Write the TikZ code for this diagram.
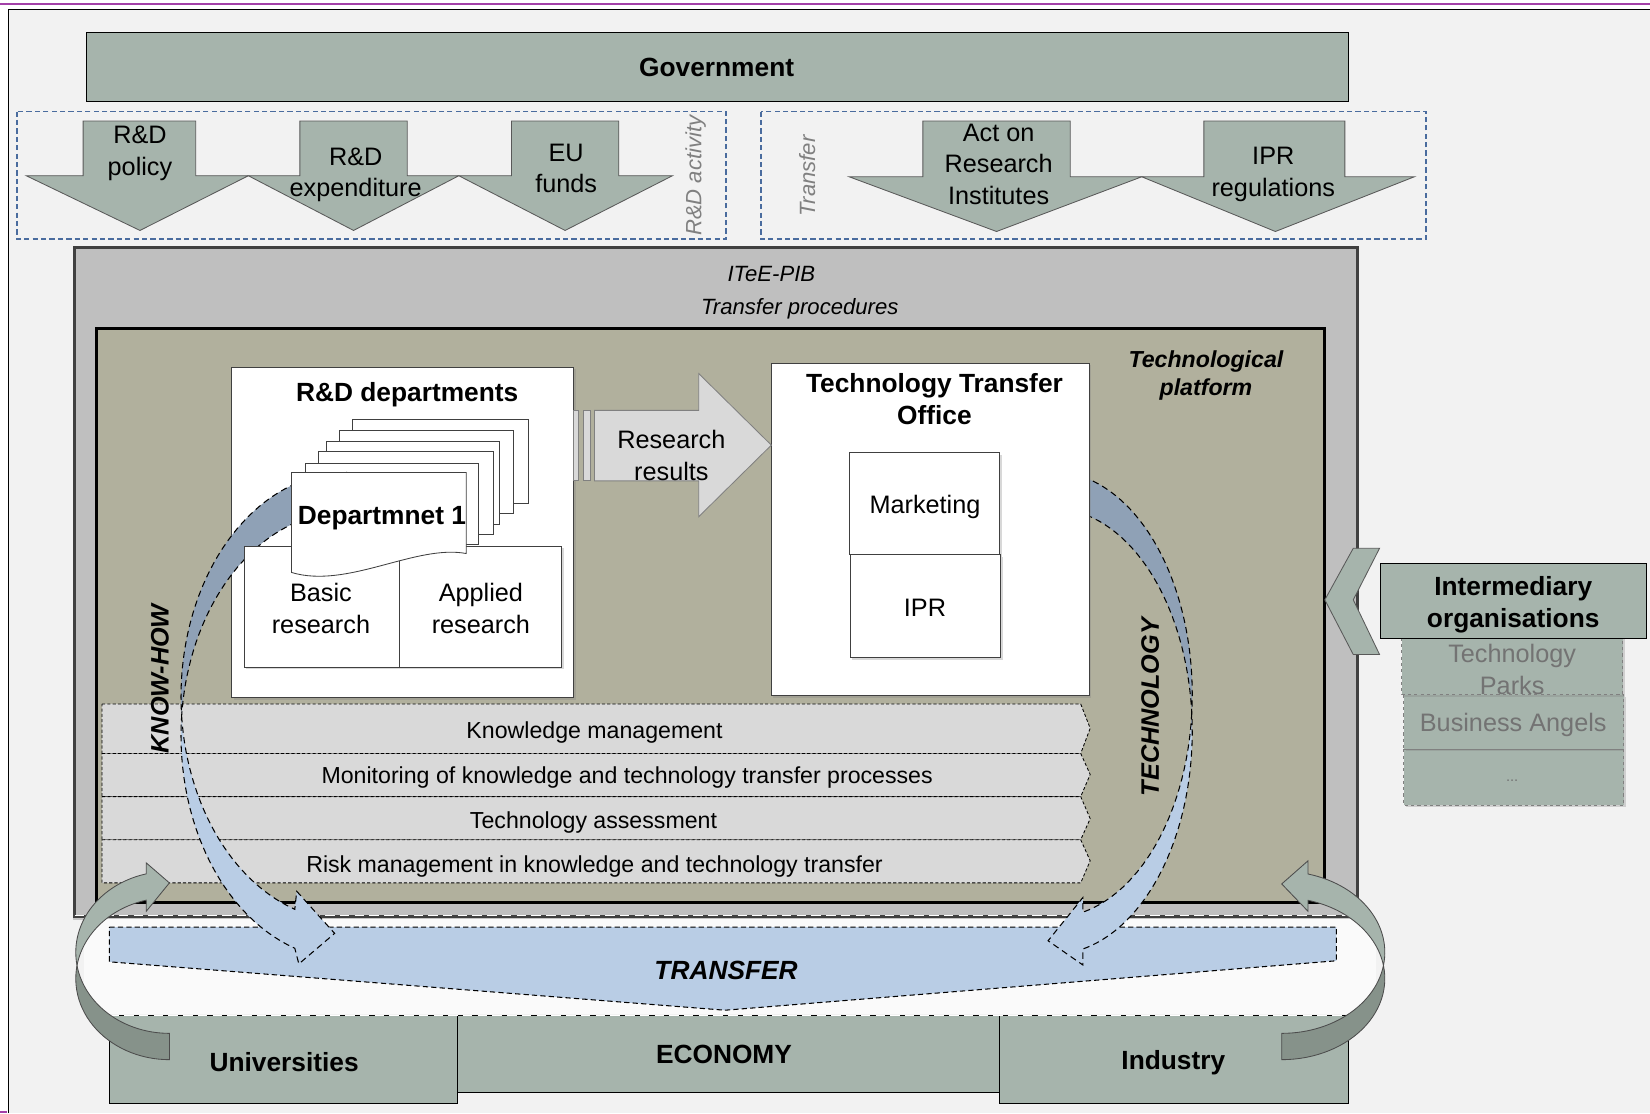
\documentclass[tikz,border=0pt]{standalone}
\usepackage{fontspec}
\setmainfont{Liberation Sans}
\usetikzlibrary{shadows}

\definecolor{slidebg}{HTML}{F2F2F2}
\definecolor{loopbg}{HTML}{FAFAFA}
\definecolor{govgreen}{HTML}{A6B4AC}
\definecolor{darkgreen}{HTML}{86928A}
\definecolor{iteegray}{HTML}{BFBFBF}
\definecolor{platform}{HTML}{B1B09D}
\definecolor{barfill}{HTML}{D9D9D9}
\definecolor{arcdark}{HTML}{8FA1B6}
\definecolor{arclight}{HTML}{B9CDE5}
\definecolor{dashblue}{HTML}{4A6C9E}
\definecolor{framepurple}{HTML}{A340A8}

\begin{document}
\begin{tikzpicture}[x=1pt, y=-1pt,
		lbl/.style={inner sep=0pt, align=center, font=\fontsize{24}{30}\selectfont},
		boldlbl/.style={inner sep=0pt, align=center, font=\bfseries\fontsize{25}{30.5}\selectfont},
		barlbl/.style={inner sep=0pt, font=\fontsize{22}{26}\selectfont},
		note/.style={inner sep=0pt, align=center, font=\itshape\fontsize{21}{27}\selectfont},
		greenbox/.style={fill=govgreen, draw=black, line width=0.8pt},
		downarrow/.style={fill=govgreen, draw=black!65, line width=0.8pt},
		groupbox/.style={draw=dashblue, dash pattern=on 5pt off 3pt, line width=1.3pt},
		whitebox/.style={fill=white, draw=black!75, line width=1pt, drop shadow={shadow xshift=2pt, shadow yshift=-2pt, opacity=0.3}},
		pagebox/.style={fill=white, draw=black!75, line width=0.8pt},
		procbar/.style={fill=barfill, draw=black, densely dashed, line width=0.8pt},
		ribbon/.style={draw=black, dash pattern=on 6pt off 4pt, line width=1pt},
		greenribbon/.style={draw=black!70, line width=0.8pt},
		subbox/.style={fill=govgreen, draw=black!50, dashed, line width=0.9pt, drop shadow={shadow xshift=2pt, shadow yshift=-2pt, opacity=0.3}}
	]
		\useasboundingbox (0,0) rectangle (1568,1058);
		\fill[white] (0,0) rectangle (1568,1058);
		\fill[slidebg] (8,9) rectangle (1568,1058);
		\draw[black, line width=1.2pt] (8,1058) -- (8,9) -- (1568,9);
		\draw[framepurple, line width=2pt] (0,4) -- (1568,4);
		\draw[framepurple, line width=2pt] (0,1057) -- (7,1057);
		
		% government and its measures
		\draw[greenbox] (82,31) rectangle (1281,96);
		\node[boldlbl] (gov) at (681,64) {Government};
		
		\draw[groupbox] (16,106) rectangle (690,227);
		\draw[groupbox] (723,106) rectangle (1355,227);
		
		\draw[downarrow] (79,115) -- (186,115) -- (186,167) -- (236,167) -- (133,219) -- (25,167) -- (79,167) -- cycle;
		\draw[downarrow] (285,115) -- (387,115) -- (387,167) -- (436,167) -- (336,219) -- (236,167) -- (285,167) -- cycle;
		\draw[downarrow] (486,115) -- (588,115) -- (588,167) -- (639,167) -- (537,219) -- (436,167) -- (486,167) -- cycle;
		\draw[downarrow] (877,115) -- (1017,115) -- (1017,168) -- (1085,168) -- (947,220) -- (807,168) -- (877,168) -- cycle;
		\draw[downarrow] (1144,115) -- (1278,115) -- (1278,168) -- (1344,168) -- (1212,220) -- (1085,168) -- (1144,168) -- cycle;
		
		\node[lbl] (policy) at (133,146) {R\&D\\policy};
		\node[lbl] (expend) at (338,166) {R\&D\\expenditure};
		\node[lbl] (funds) at (538,160) {EU\\funds};
		\node[lbl] (act) at (949,156) {Act on\\Research\\Institutes};
		\node[lbl] (iprreg) at (1210,166) {IPR\\regulations};
		\node[note, text=black!50, rotate=90] (rdact) at (661,167) {R\&D activity};
		\node[note, text=black!50, rotate=90] (transf) at (767,167) {Transfer};
		
		% ITeE-PIB
		\draw[fill=iteegray, draw=black!75, line width=3pt, drop shadow={shadow xshift=-2pt, shadow yshift=-3pt, opacity=0.4}] (71,235) rectangle (1290,871);
		\node[note] (itee) at (733,260) {ITeE-PIB};
		\node[note] (proc) at (760,293) {Transfer procedures};
		\draw[white, dash pattern=on 9pt off 5pt, line width=1.5pt] (71,870) -- (1290,870);
		
		\draw[fill=platform, draw=black, line width=3pt] (92,312) rectangle (1259,858);
		\node[note, font=\bfseries\itshape\fontsize{22}{27}\selectfont] (platf) at (1146,357) {Technological\\platform};
		
		% transfer to economy
		\fill[loopbg] (80,873) rectangle (1308,964);
		\draw[fill=arclight, draw=black, dash pattern=on 5pt off 3pt, line width=1pt] (104,881) -- (1270,881) -- (1270,913) -- (689,960) -- (104,914) -- cycle;
		\node[boldlbl, font=\bfseries\itshape\fontsize{25}{30}\selectfont] (transfer) at (690,922) {TRANSFER};
		
		\draw[greenbox] (104,965) rectangle (435,1049);
		\draw[greenbox] (435,965) rectangle (950,1038);
		\draw[greenbox] (950,965) rectangle (1281,1049);
		\draw[white, dash pattern=on 9pt off 5pt, line width=1.5pt] (104,965) -- (1281,965);
		\node[boldlbl] (univ) at (270,1009) {Universities};
		\node[boldlbl] (econ) at (688,1002) {ECONOMY};
		\node[boldlbl] (indus) at (1115,1010) {Industry};
		
		% processes
		\draw[procbar] (97,669) -- (1027,669) -- (1036,692) -- (1027,716) -- (97,716) -- cycle;
		\draw[procbar] (97,716) -- (1027,716) -- (1036,736) -- (1027,757) -- (97,757) -- cycle;
		\draw[procbar] (97,757) -- (1027,757) -- (1036,778) -- (1027,798) -- (97,798) -- cycle;
		\draw[procbar] (97,798) -- (1027,798) -- (1036,818) -- (1027,839) -- (97,839) -- cycle;
		\node[barlbl] (km) at (565,696) {Knowledge management};
		\node[barlbl] (mon) at (596,739) {Monitoring of knowledge and technology transfer processes};
		\node[barlbl] (ta) at (564,782) {Technology assessment};
		\node[barlbl] (risk) at (565,823) {Risk management in knowledge and technology transfer};
		
		% R&D departments
		\draw[whitebox] (220,349) rectangle (545,663);
		\node[boldlbl] (rd) at (387,375) {R\&D departments};
		\draw[pagebox] (335,399) rectangle (502,478);
		\draw[pagebox] (323,409) rectangle (488,488);
		\draw[pagebox] (310,419) rectangle (475,498);
		\draw[pagebox] (303,429) rectangle (469,508);
		\draw[pagebox] (290,440) rectangle (455,517);
		
		% know-how and technology ribbons
		\draw[ribbon, fill=arcdark] plot[domain=90:185, samples=40] ({330+158*cos(\x)}, {662-213*sin(\x)}) -- plot[domain=175:90, samples=40] ({330+158*cos(\x)}, {699-213*sin(\x)}) -- cycle;
		\draw[ribbon, fill=arclight] plot[domain=185:251.6, samples=30] ({330+158*cos(\x)}, {662-213*sin(\x)}) -- (282,847) -- (318,887) -- (284,916) -- plot[domain=251.6:175, samples=30] ({330+158*cos(\x)}, {699-213*sin(\x)}) -- cycle;
		\draw[ribbon, fill=arcdark] plot[domain=90:-4.74, samples=40] ({1000+133*cos(\x)}, {660-212*sin(\x)}) -- plot[domain=4.74:90, samples=40] ({1000+133*cos(\x)}, {695-212*sin(\x)}) -- cycle;
		\draw[ribbon, fill=arclight] plot[domain=-4.74:-77.4, samples=30] ({1000+133*cos(\x)}, {660-212*sin(\x)}) -- (1029,853) -- (996,894) -- (1029,917) -- plot[domain=-77.4:4.74, samples=30] ({1000+133*cos(\x)}, {695-212*sin(\x)}) -- cycle;
		\node[boldlbl, font=\bfseries\itshape\fontsize{24}{29}\selectfont, rotate=90] (knowhow) at (152,645) {KNOW-HOW};
		\node[boldlbl, font=\bfseries\itshape\fontsize{24}{29}\selectfont, rotate=90] (techn) at (1093,672) {TECHNOLOGY};
		
		\draw[whitebox] (232,519) rectangle (380,634);
		\draw[whitebox] (380,519) rectangle (534,634);
		\node[lbl] (basic) at (305,578) {Basic\\research};
		\node[lbl] (applied) at (457,578) {Applied\\research};
		\draw[pagebox] (277,449) -- (443,449) -- (443,526) .. controls (395,517) and (330,560) .. (277,544) -- cycle;
		\node[boldlbl] (dep1) at (363,492) {Departmnet 1};
		
		% technology transfer office
		\draw[whitebox] (733,345) rectangle (1035,661);
		\node[boldlbl] (tto) at (888,379) {Technology Transfer\\Office};
		\draw[whitebox] (807,430) rectangle (950,527);
		\draw[whitebox] (808,527) rectangle (951,625);
		\node[lbl] (mkt) at (879,482) {Marketing};
		\node[lbl] (ipr) at (879,578) {IPR};
		
		\draw[fill=barfill, draw=black!50, line width=0.8pt] (545,390) rectangle (550,457);
		\draw[fill=barfill, draw=black!50, line width=0.8pt] (554,390) rectangle (561,457);
		\draw[fill=barfill, draw=black!50, line width=0.8pt] (565,390) -- (664,390) -- (664,355) -- (733,423) -- (664,491) -- (664,457) -- (565,457) -- cycle;
		\node[lbl] (results) at (638,433) {Research\\results};
		
		% loops back from universities and industry
		\draw[greenribbon, fill=darkgreen] plot[domain=-9.34:-90, samples=30] ({161-89*cos(\x)}, {905-77*sin(\x)}) -- plot[domain=-90:9.34, samples=30] ({161-89*cos(\x)}, {930-77*sin(\x)}) -- cycle;
		\draw[greenribbon, fill=govgreen] plot[domain=-9.34:75.7, samples=30] ({161-89*cos(\x)}, {905-77*sin(\x)}) -- (139,820) -- (161,839) -- (139,866) -- plot[domain=75.7:9.34, samples=30] ({161-89*cos(\x)}, {930-77*sin(\x)}) -- cycle;
		\draw[greenribbon, fill=darkgreen] plot[domain=-9.34:-90, samples=30] ({1218+98*cos(\x)}, {905-77*sin(\x)}) -- plot[domain=-90:9.34, samples=30] ({1218+98*cos(\x)}, {930-77*sin(\x)}) -- cycle;
		\draw[greenribbon, fill=govgreen] plot[domain=-9.34:75.2, samples=30] ({1218+98*cos(\x)}, {905-77*sin(\x)}) -- (1243,818) -- (1218,840) -- (1243,866) -- plot[domain=75.2:9.34, samples=30] ({1218+98*cos(\x)}, {930-77*sin(\x)}) -- cycle;
		
		% intermediary organisations
		\draw[subbox] (1334,712) rectangle (1543,765);
		\draw[subbox] (1334,660) rectangle (1543,712);
		\draw[subbox] (1332,600) rectangle (1542,660);
		\draw[greenbox] (1312,535) rectangle (1565,607);
		\node[boldlbl] (inter) at (1438,575) {Intermediary\\organisations};
		\node[lbl, text=black!55] (parks) at (1437,636) {Technology\\Parks};
		\node[lbl, text=black!55] (angels) at (1438,689) {Business Angels};
		\node[lbl, text=black!55, font=\fontsize{14}{16}\selectfont] (more) at (1437,742) {...};
		\draw[fill=govgreen, draw=black!65, line width=0.8pt] (1311,521) -- (1286,521) -- (1259,570) -- (1286,622) -- (1311,622) -- (1286,570) -- cycle;
	\end{tikzpicture}
\end{document}
